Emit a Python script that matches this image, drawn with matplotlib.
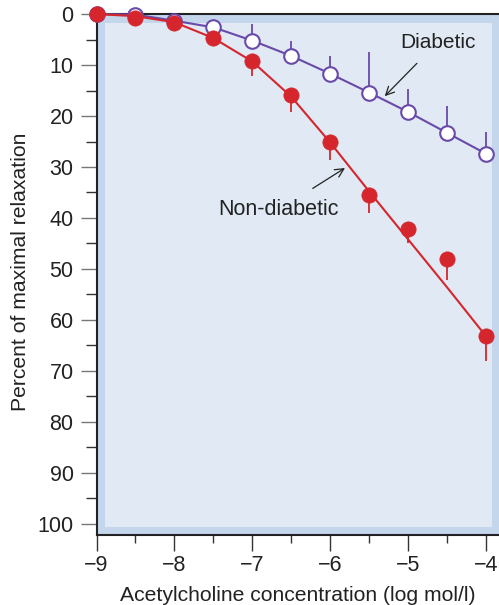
import numpy as np
import matplotlib
matplotlib.use('Agg')
from matplotlib import pyplot as plt
from matplotlib.patches import Rectangle
from matplotlib.ticker import MultipleLocator

# log concentration of acetylcholine
conc = [-9, -8.5, -8, -7.5, -7, -6.5, -6, -5.5, -5, -4.5, -4]

# non-diabetic (filled red)
nondiab = [0, 0.8, 1.7, 4.6, 9.3, 15.8, 25.1, 35.5, 42.1, 48.1, 63.2]
nondiab_err = [0, 0, 0, 0, 2.8, 3.4, 3.6, 3.5, 2.9, 4.0, 4.9]
nondiab_fit = [0, 0.4, 1.6, 4.7, 9.3, 16.2, 25.2, 34.8, 44.2, 53.6, 63.2]

# diabetic (open purple)
diab = [0, 0.1, 1.3, 2.6, 5.2, 8.2, 11.7, 15.4, 19.2, 23.3, 27.4]
diab_err = [0, 0, 0, 0, 3.2, 3.0, 3.5, 7.9, 4.6, 5.3, 4.3]

RED = '#d5262d'
PURPLE = '#6a4aa9'
OUTER = '#c3d6ec'
INNER = '#e0e9f4'

plt.rcParams['font.family'] = ['Liberation Sans', 'DejaVu Sans']

fig = plt.figure(figsize=(4.99, 6.05), dpi=100)
ax = fig.add_axes([0.1934, 0.1157, 0.8066, 0.861])
ax.set_facecolor(OUTER)
ax.add_patch(Rectangle((0.021, 0.015), 0.962, 0.968, transform=ax.transAxes,
                       facecolor=INNER, edgecolor='none', zorder=0))

# diabetic
ax.errorbar(conc, diab, yerr=[diab_err, np.zeros(len(diab_err))], fmt='none',
            ecolor=PURPLE, elinewidth=1.3, capsize=0, zorder=3, clip_on=False)
ax.plot(conc, diab, color=PURPLE, lw=1.5, zorder=4, clip_on=False)
ax.plot(conc, diab, 'o', ms=10.5, mfc='white', mec=PURPLE, mew=1.5,
        zorder=5, clip_on=False)

# non-diabetic
ax.errorbar(conc, nondiab, yerr=[np.zeros(len(nondiab_err)), nondiab_err], fmt='none',
            ecolor=RED, elinewidth=1.3, capsize=0, zorder=6, clip_on=False)
ax.plot(conc, nondiab_fit, color=RED, lw=1.5, zorder=6, clip_on=False)
ax.plot(conc, nondiab, 'o', ms=11, mfc=RED, mec=RED, mew=0.5,
        zorder=7, clip_on=False)

ax.annotate('Non-diabetic', xy=(-5.81, 30.2), xytext=(-6.66, 38.4),
            ha='center', va='center', fontsize=15.5, color='#222222',
            arrowprops=dict(arrowstyle='->', color='#222222', lw=0.9,
                            shrinkA=11, shrinkB=0))
ax.annotate('Diabetic', xy=(-5.30, 16.1), xytext=(-4.62, 5.5),
            ha='center', va='center', fontsize=15, color='#222222',
            arrowprops=dict(arrowstyle='->', color='#222222', lw=0.9,
                            shrinkA=9, shrinkB=0))

ax.set_xlim(-9, -3.833)
ax.set_ylim(102.2, 0)
ax.xaxis.set_major_locator(MultipleLocator(1))
ax.xaxis.set_minor_locator(MultipleLocator(0.5))
ax.yaxis.set_major_locator(MultipleLocator(10))
ax.yaxis.set_minor_locator(MultipleLocator(5))

ax.tick_params(axis='y', which='major', length=11.5, width=1, color='#777777',
               labelsize=15.5, pad=5, labelcolor='#222222')
ax.tick_params(axis='y', which='minor', length=8, width=1, color='#333333')
ax.tick_params(axis='x', which='major', length=11.5, width=1, color='#333333',
               labelsize=15.5, pad=3, labelcolor='#222222')
ax.tick_params(axis='x', which='minor', length=6, width=1, color='#333333')

for side in ['left', 'bottom', 'top']:
    ax.spines[side].set_color('#222222')
    ax.spines[side].set_linewidth(1.5)
ax.spines['right'].set_visible(False)

ax.set_xlabel('Acetylcholine concentration (log mol/l)', fontsize=15.2,
              color='#222222', labelpad=7)
ax.set_ylabel('Percent of maximal relaxation', fontsize=15.2, color='#222222')
ax.yaxis.set_label_coords(-0.165, 0.505)

fig.savefig('out.png', dpi=100)
